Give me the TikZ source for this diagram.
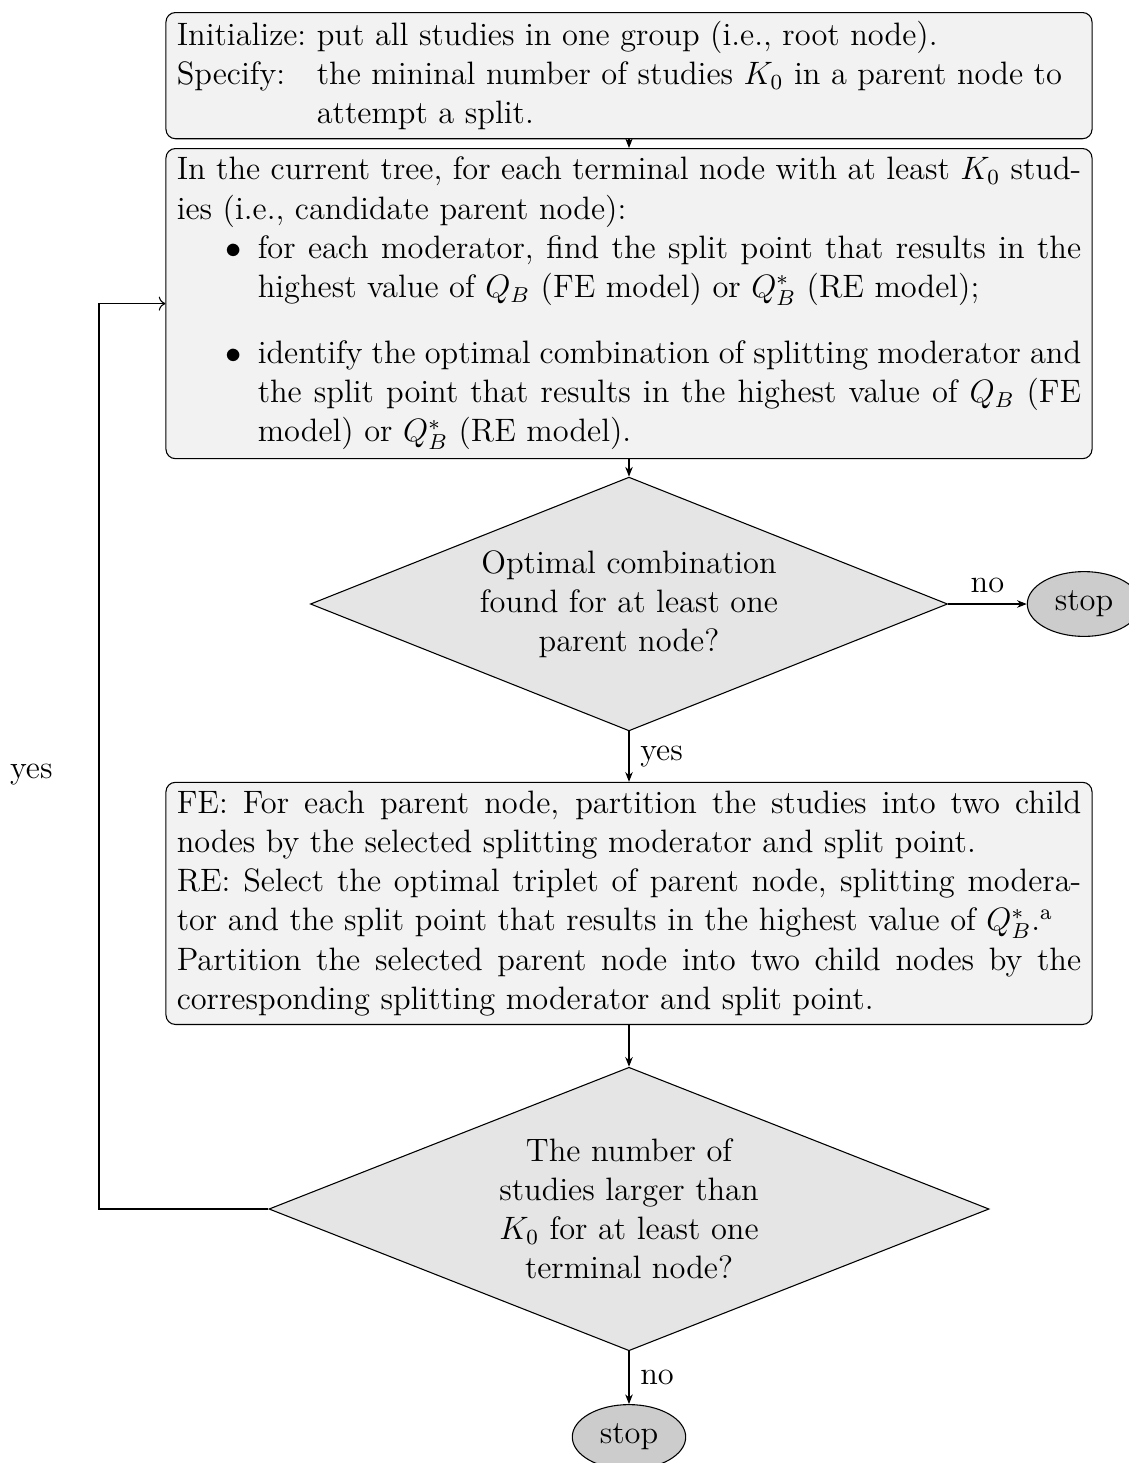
\documentclass[12pt,tikz,border=0pt]{standalone}
\usetikzlibrary{shapes.geometric, arrows.meta}
\begin{document}
\begin{tikzpicture}[x=0.37037pt, y=-0.37037pt,
  procbox/.style={draw, line width=0.4pt, rounded corners=3.5pt, fill=gray!10,
    text width=335pt, align=justify, inner xsep=4pt, inner ysep=3.2pt},
  decision/.style={diamond, draw, line width=0.4pt, fill=gray!20, aspect=2.5,
    align=center, inner sep=0pt},
  stopnode/.style={ellipse, draw, line width=0.4pt, fill=gray!40,
    minimum width=42pt, minimum height=24pt, inner sep=0pt},
  flow/.style={line width=0.4pt, -{Stealth[length=3.6pt, width=2.8pt]}},
  loopflow/.style={line width=0.4pt, ->},
]
\useasboundingbox (0,0) rectangle (1129,1463);

% initialisation
\node[procbox, anchor=north] (init) at (629,12) {%
Initialize:\ put all studies in one group (i.e., root node).\\
\makebox[0pt][l]{Specify:}\phantom{Initialize:}\ \parbox[t]{280pt}{\raggedright the mininal number of studies $K_0$ in a parent node to attempt a split.}};

% search for the best split of every candidate parent node
\node[procbox, anchor=north] (search) at (629,148) {%
In the current tree, for each terminal node with at least $K_0$ stud-\linebreak ies (i.e., candidate parent node):
\begin{list}{$\bullet$}{\setlength{\topsep}{0pt}\setlength{\partopsep}{0pt}%
  \setlength{\parsep}{5pt}\setlength{\itemsep}{5pt}}
\item for each moderator, find the split point that results in the highest value of $Q_B$ (FE model) or $Q_B^*$ (RE model);
\item identify the optimal combination of splitting moderator and the split point that results in the highest value of $Q_B$ (FE model) or $Q_B^*$ (RE model).
\end{list}};

\node[decision, minimum width=236pt, minimum height=94pt] (dec1) at (629,604)
  {Optimal combination\\found for at least one\\parent node?};

\node[stopnode] (stop1) at (1084,604) {stop};

% partition step
\node[procbox, anchor=south] (split) at (629,1025) {%
FE: For each parent node, partition the studies into two child nodes by the selected splitting moderator and split point.\\
RE: Select the optimal triplet of parent node, splitting modera-\linebreak tor and the split point that results in the highest value of $Q_B^*$.\textsuperscript{a}\\
Partition the selected parent node into two child nodes by the corresponding splitting moderator and split point.};

\node[decision, minimum width=266.7pt, minimum height=105pt] (dec2) at (629,1209)
  {The number of\\studies larger than\\$K_0$ for at least one\\terminal node?};

\node[stopnode] (stop2) at (629,1437) {stop};

\coordinate (loopx) at (99,0);

% connectors
\draw[flow] (init) -- (search);
\draw[flow] (search) -- (dec1);
\draw[flow] (dec1) -- node[above] {no} (stop1);
\draw[flow] (dec1) -- node[right] {yes} (split);
\draw[flow] (split) -- (dec2);
\draw[flow] (dec2) -- node[right] {no} (stop2);
\draw[loopflow] (dec2.west) -- (dec2.west -| loopx) |- node[pos=0.24, left=13pt] {yes} (search.west);
\end{tikzpicture}
\end{document}
